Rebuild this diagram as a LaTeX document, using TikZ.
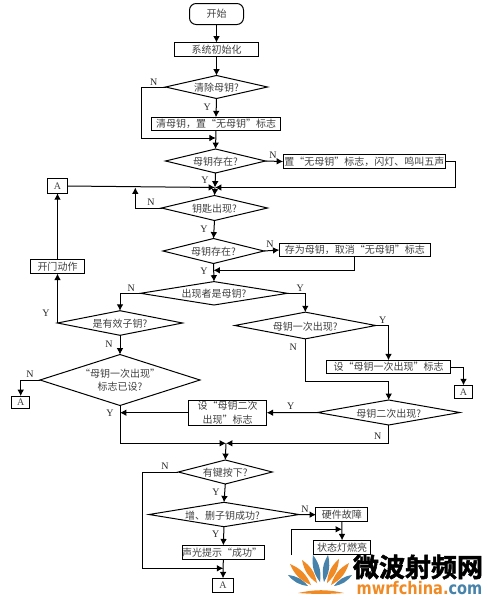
\documentclass[tikz,border=0pt]{standalone}
\usepackage{fontspec}
\setmainfont{Liberation Serif}
\newfontfamily\cjkfont{Noto Sans CJK SC}
\newfontfamily\logocjk[FakeBold=2]{Noto Sans CJK SC Bold}
\newfontfamily\logofont{DejaVu Sans}
\definecolor{LogoOrange}{RGB}{240,138,36}
\definecolor{LogoBlue}{RGB}{70,130,170}
\usetikzlibrary{shapes.geometric,calc,arrows.meta}
\tikzset{>={Latex[length=4.8pt,width=5pt]}}
\tikzset{mytext/.style={text=black!75,font=\fontsize{7.5}{10}\selectfont\cjkfont}}
\tikzset{mybox/.style={rectangle,draw,mytext,line width=.75pt,inner sep=0pt,outer sep=0pt,align=center}}
\tikzset{myterm/.style={mybox,rounded corners=5pt}}
\tikzset{mydecision/.style={diamond,draw,mytext,line width=.75pt,inner sep=0pt,outer sep=0pt,align=center,text height=.7em,text depth=0pt}}
\tikzset{myletter/.style={mybox,font=\fontsize{7.5}{9}\selectfont}}
\tikzset{mylabel/.style={text=black!85,inner sep=0pt,font=\fontsize{7.5}{9}\selectfont}}
\tikzset{myedges/.style={line width=.75pt}}
\begin{document}
\begin{tikzpicture}[x=.75pt,y=-.75pt]
    \useasboundingbox (0,0) rectangle (488,600);

    % boxes
    \node[myterm,minimum width=54*.75pt,minimum height=21*.75pt] (start) at (216.5,14) {开始};
    \foreach \n/\x/\y/\w/\h/\t in {
        init/216.5/49.5/84/14/{系统初始化},
        clear/216/124/129/13.5/{清母钥，置“无母钥”标志},
        flagone/364.3/161.5/162.5/14/{置“无母钥”标志，闪灯、鸣叫五声},
        store/354.8/250/151/12.6/{存为母钥，取消“无母钥”标志},
        door/57.5/266.8/54.4/13.7/{开门动作},
        setone/388.5/367/124.4/13.4/{设“母钥一次出现”标志},
        settwo/227.5/412.7/78.4/25.3/{设“母钥二次\\出现”标志},
        fault/341.8/514.7/51.7/14/{硬件故障},
        lamp/342.1/547.3/57.7/14/{状态灯燃亮},
        done/223.3/552.3/81/14/{声光提示“成功”}
    } {
        \node[mybox,minimum width=\w*.75pt,minimum height=\h*.75pt] (\n) at (\x,\y) {\t};
    }
    \foreach \n/\x/\y/\w/\h in {
        aone/57.5/186/19.2/14.6,
        atwo/463.5/391.8/18.4/13,
        athree/20.7/402.2/18/12.3,
        afour/223/585.3/21/14
    } {
        \node[myletter,minimum width=\w*.75pt,minimum height=\h*.75pt] (\n) at (\x,\y) {A};
    }

    % decisions
    \foreach \n/\x/\y/\w/\h/\t in {
        qclear/216.5/87/102/23/{清除母钥?},
        qmaster/215.5/161/100/24/{母钥存在?},
        qkey/214.5/208/106/25/{钥匙出现?},
        qagain/213.5/251/101/25/{母钥存在?},
        qwho/214/293.3/147/23.4/{出现者是母钥?},
        qsub/120/323/125/24.6/{是有效子钥?},
        qfirst/305.3/325.5/141/26.7/{母钥一次出现?},
        qsecond/388.7/412.5/142.4/25/{母钥二次出现?},
        qpress/225.3/472/94/24/{有键按下?},
        qadd/224/514.5/150/24.4/{增、删子钥成功?}
    } {
        \pgfmathsetmacro\asp{\w/\h}
        \node[mydecision,aspect=\asp,minimum width=\w*.75pt,minimum height=\h*.75pt] (\n) at (\x,\y) {\t};
    }
    \node[mydecision,text height=,text depth=,aspect=3.14,minimum width=160*.75pt,minimum height=51*.75pt] (qflag) at (120,380) {“母钥一次出现”\\标志已设?};

    % joints
    \coordinate (jclear) at (215.8,138);
    \coordinate (bclear) at (141.5,138);
    \coordinate (jmain) at (215,187.5);
    \coordinate (bmain) at (455.5,187.5);
    \coordinate (bkey) at (135.3,187.5);
    \coordinate (jstore) at (213.5,270.3);
    \coordinate (bfirst) at (305.3,381.7);
    \coordinate (jset) at (120,412.7);
    \coordinate (jend) at (226,443.3);
    \coordinate (jdone) at (223.3,568.3);
    \coordinate (bpress) at (142.7,568.3);
    \coordinate (bfree) at (291.7,555);
    \coordinate (jlamp) at (342,529.3);

    % straight edges
    \foreach \a/\b in {
        start.south/init.north,
        init.south/qclear.north,
        qclear.south/clear.north,
        jclear/qmaster.north,
        qmaster.east/flagone.west,
        qmaster.south/jmain,
        aone.east/jmain,
        jmain/qkey.north,
        qkey.south/qagain.north,
        qagain.east/store.west,
        qagain.south/qwho.north,
        door.north/aone.south,
        qsub.west/door.south,
        qsub.south/qflag.north,
        qsecond.west/settwo.east,
        settwo.west/jset,
        jend/qpress.north,
        qpress.south/qadd.north,
        qadd.south/done.north,
        done.south/afour.north,
        qadd.east/fault.west,
        fault.south/lamp.north} {
        \draw[myedges,->] (\a) -- (\b);
    }
    \draw[myedges] (clear.south) -- (jclear);

    % bent edges
    \draw[myedges,->] (qclear.west) -| (bclear) -- (jclear);
    \draw[myedges,->] (flagone.east) -| (bmain) -- (jmain);
    \draw[myedges,->] (qkey.west) -| (bkey);
    \draw[myedges,->] (store.south) |- (jstore);
    \draw[myedges,->] (qwho.west) -| (qsub.north);
    \draw[myedges,->] (qwho.east) -| (qfirst.north);
    \draw[myedges,->] (qfirst.east) -| (setone.north);
    \draw[myedges,->] (setone.east) -| (atwo.north);
    \draw[myedges,->] (qflag.west) -| (athree.north);
    \draw[myedges,->] (qfirst.south) -- (bfirst) -| (qsecond.north);
    \draw[myedges,->] (qflag.south) |- (jend);
    \draw[myedges,->] (qsecond.south) |- (jend);
    \draw[myedges,->] (qpress.west) -| (bpress) -- (jdone);
    \draw[myedges,->] (bfree) |- (jlamp);

    % Y and N
    \foreach \n/\x/\y/\t in {
        la/153.7/82.5/N, lb/207.3/107.3/Y, lc/273/155.7/N, ld/205/180.3/Y,
        le/151/202.3/N, lf/204/229.3/Y, lg/270/244.3/N, lh/204/271.7/Y,
        li/131.3/288.7/N, lj/300.3/288.7/Y, lk/46/313.3/Y, ll/109/344.7/N,
        lm/382.7/320.3/Y, ln/293.3/347.7/N, lo/30/374.3/N, lp/110/413.3/Y,
        lq/290.7/406.7/Y, lr/377.7/436/N, ls/165/466.7/N, lt/216/492.3/Y,
        lu/305/509.3/N, lv/215.7/534.3/Y
    } {
        \node[mylabel] (\n) at (\x,\y) {\t};
    }

    % logo
    \foreach \bx/\by/\tx/\ty/\c in {
        308/586/288/575/LogoBlue,
        311/585/290/564/LogoOrange,
        317/583/302/560/LogoOrange,
        320/582/313/555/LogoBlue,
        324/582/328/555/LogoBlue,
        327/583/339/559/LogoOrange,
        331/585/349/563/LogoOrange,
        334/586/352/575/LogoBlue} {
        \fill[\c] (\bx,\by) to[bend left=22] (\tx,\ty) to[bend left=22] (\bx,\by);
    }
    \fill[LogoOrange] (298,593) to[bend left=12] (344,593) to[bend left=4] (298,593);
    \node[inner sep=0pt,font=\fontsize{19.5}{20}\selectfont\logocjk] (logotext) at (418,567) {微波射频网};
    \node[inner sep=0pt,anchor=base,font=\fontsize{13}{14}\selectfont\logofont\bfseries] (logourl) at (419.5,594.3) {\scalebox{.84}[1]{\textcolor{LogoOrange}{mwrfchina.}\textcolor{LogoBlue}{com}}};
\end{tikzpicture}
\end{document}
